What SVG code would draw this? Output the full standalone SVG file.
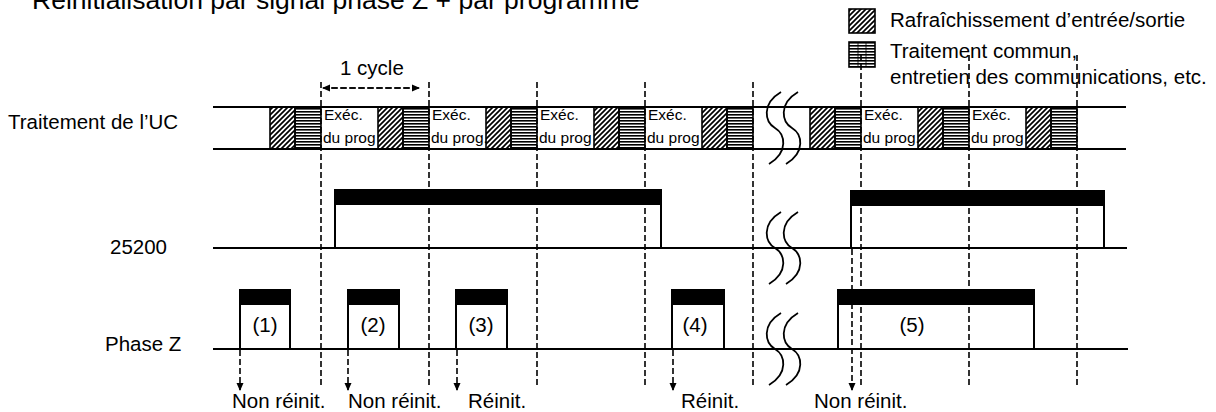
<svg xmlns="http://www.w3.org/2000/svg" width="1216" height="412" viewBox="0 0 1216 412">
<style>
text{font-family:"Liberation Sans",Arial,sans-serif;fill:#000}
.lbl{font-size:20.5px}
.small{font-size:15.5px}
.title{font-size:26.5px}
.ln{stroke:#000;stroke-width:2;fill:none}
.dash{stroke:#000;stroke-width:1.6;stroke-dasharray:6 3;fill:none}
.bar{fill:#000}
.hb{fill:url(#hatch);stroke:#000;stroke-width:1.6}
.lb{fill:url(#hl);stroke:#000;stroke-width:1.6}
.vl{stroke:#000;stroke-width:0.8}
.brk{stroke:#000;stroke-width:1.8;fill:none}
</style>
<defs>
<pattern id="hatch" width="5" height="5" patternUnits="userSpaceOnUse"><path d="M-1,1 L1,-1 M0,5 L5,0 M4,6 L6,4" stroke="#000" stroke-width="1.7"/></pattern>
<pattern id="hl" width="4" height="3" patternUnits="userSpaceOnUse"><rect width="4" height="1.6" fill="#000"/></pattern>
<marker id="ah" viewBox="0 0 8 8" refX="7" refY="4" markerWidth="8" markerHeight="8" markerUnits="userSpaceOnUse" orient="auto"><path d="M0,0.5 L8,4 L0,7.5 Z" fill="#000"/></marker>
<path id="s" d="M6,-36 C-14,-24 -10,-6 0,0 C10,6 14,24 -6,36" />
</defs>
<rect width="1216" height="412" fill="#fff"/>
<text class="title" x="32" y="9">Réinitialisation par signal phase Z + par programme</text>

<g id="legend">
<rect class="hb" x="849" y="9" width="26" height="24"/>
<text class="lbl" x="890" y="27">Rafraîchissement d’entrée/sortie</text>
<rect class="lb" x="849" y="42" width="26" height="25"/>
<line class="vl" x1="858" y1="42" x2="858" y2="67"/><line class="vl" x1="866" y1="42" x2="866" y2="67"/>
<text class="lbl" x="890" y="58">Traitement commun,</text>
<text class="lbl" x="890" y="84">entretien des communications, etc.</text>
</g>

<g id="labels">
<text class="lbl" x="8" y="129">Traitement de l’UC</text>
<text class="lbl" x="110" y="254">25200</text>
<text class="lbl" x="105" y="351">Phase Z</text>
</g>

<g id="cpu">
<line class="ln" x1="213" y1="107" x2="1126" y2="107"/>
<line class="ln" x1="213" y1="149" x2="1126" y2="149"/>
<g id="blocks">
<rect class="hb" x="270" y="107" width="25" height="42"/><rect class="lb" x="295" y="107" width="26" height="42"/>
<rect class="hb" x="378" y="107" width="25" height="42"/><rect class="lb" x="403" y="107" width="26" height="42"/>
<rect class="hb" x="486" y="107" width="25" height="42"/><rect class="lb" x="511" y="107" width="26" height="42"/>
<rect class="hb" x="594" y="107" width="25" height="42"/><rect class="lb" x="619" y="107" width="26" height="42"/>
<rect class="hb" x="702" y="107" width="25" height="42"/><rect class="lb" x="727" y="107" width="26" height="42"/>
<rect class="hb" x="810" y="107" width="25" height="42"/><rect class="lb" x="835" y="107" width="26" height="42"/>
<rect class="hb" x="918" y="107" width="25" height="42"/><rect class="lb" x="943" y="107" width="26" height="42"/>
<rect class="hb" x="1026" y="107" width="25" height="42"/><rect class="lb" x="1051" y="107" width="26" height="42"/>
</g>
<g id="prog">
<text class="small" x="324" y="120">Exéc.</text><text class="small" x="323" y="143">du prog</text>
<text class="small" x="432" y="120">Exéc.</text><text class="small" x="431" y="143">du prog.</text>
<text class="small" x="540" y="120">Exéc.</text><text class="small" x="539" y="143">du prog</text>
<text class="small" x="648" y="120">Exéc.</text><text class="small" x="647" y="143">du prog</text>
<text class="small" x="864" y="120">Exéc.</text><text class="small" x="863" y="143">du prog.</text>
<text class="small" x="972" y="120">Exéc.</text><text class="small" x="971" y="143">du prog</text>
</g>
</g>

<g id="sig25200">
<line class="ln" x1="213" y1="248" x2="1127" y2="248"/>
<path class="ln" d="M335,248 V189 M661,205 V248"/>
<rect class="bar" x="335" y="189" width="327" height="16"/>
<path class="ln" d="M851,248 V190 M1104,206 V248"/>
<rect class="bar" x="851" y="190" width="254" height="16"/>
</g>

<g id="phasez">
<line class="ln" x1="213" y1="349" x2="1128" y2="349"/>
<path class="ln" d="M240,349 V289 M290,305 V349 M348,349 V289 M399,305 V349 M456,349 V289 M507,305 V349 M672,349 V289 M724,305 V349 M838,349 V289 M1034,305 V349"/>
<rect class="bar" x="240" y="289" width="51" height="16"/>
<rect class="bar" x="348" y="289" width="52" height="16"/>
<rect class="bar" x="456" y="289" width="52" height="16"/>
<rect class="bar" x="672" y="289" width="53" height="16"/>
<rect class="bar" x="838" y="289" width="197" height="16"/>
<text class="lbl" x="265" y="332" text-anchor="middle">(1)</text>
<text class="lbl" x="373" y="332" text-anchor="middle">(2)</text>
<text class="lbl" x="481" y="332" text-anchor="middle">(3)</text>
<text class="lbl" x="695" y="332" text-anchor="middle">(4)</text>
<text class="lbl" x="912" y="332" text-anchor="middle">(5)</text>
</g>

<g id="breaks">
<use href="#s" class="brk" x="775" y="128"/><use href="#s" class="brk" x="792" y="128"/>
<use href="#s" class="brk" x="775" y="248"/><use href="#s" class="brk" x="792" y="248"/>
<use href="#s" class="brk" x="775" y="349"/><use href="#s" class="brk" x="792" y="349"/>
</g>

<g id="connectors">
<path class="dash" d="M321,82 V388 M429,82 V388 M537,82 V388 M645,82 V388 M753,82 V388 M861,55 V388 M969,55 V388 M1077,55 V388"/>
<line class="dash" x1="331" y1="88" x2="419" y2="88" marker-end="url(#ah)"/>
<line class="dash" x1="419" y1="88" x2="323" y2="88" marker-end="url(#ah)"/>
<line class="dash" x1="240" y1="350" x2="240" y2="390" marker-end="url(#ah)"/>
<line class="dash" x1="348" y1="350" x2="348" y2="390" marker-end="url(#ah)"/>
<line class="dash" x1="457" y1="350" x2="457" y2="390" marker-end="url(#ah)"/>
<line class="dash" x1="673" y1="350" x2="673" y2="390" marker-end="url(#ah)"/>
<line class="dash" x1="852" y1="249" x2="852" y2="390" marker-end="url(#ah)"/>
</g>

<g id="results">
<text class="lbl" x="232" y="408">Non réinit.</text>
<text class="lbl" x="348" y="408">Non réinit.</text>
<text class="lbl" x="468" y="408">Réinit.</text>
<text class="lbl" x="681" y="408">Réinit.</text>
<text class="lbl" x="814" y="408">Non réinit.</text>
</g>
<text class="lbl" x="340" y="75">1 cycle</text>
</svg>
